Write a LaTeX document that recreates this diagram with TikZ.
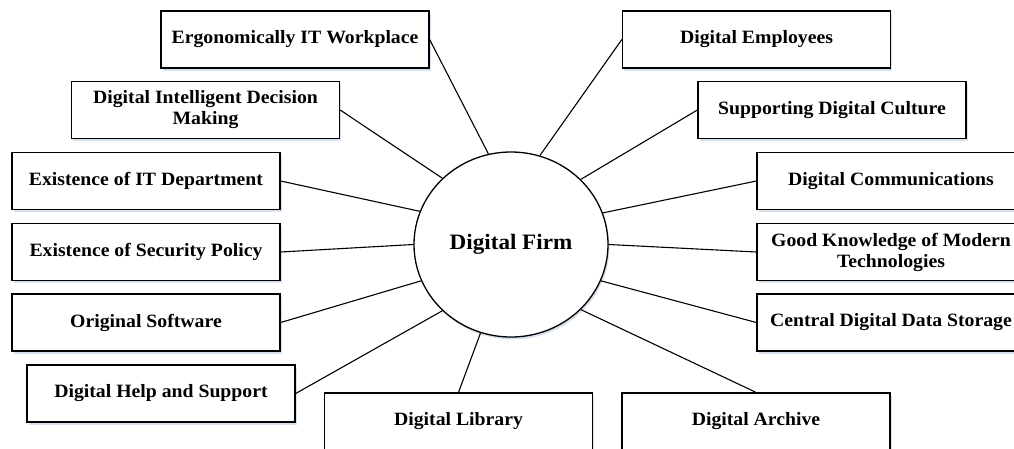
\documentclass[tikz,border=0pt]{standalone}
\usepackage{fontspec}
\setmainfont[FakeStretch=1.05]{Liberation Serif}
\usetikzlibrary{shapes.geometric,shadows}
\definecolor{shadowblue}{HTML}{D3DFEE}
\begin{document}
\begin{tikzpicture}[x=1pt,y=-1pt,
  box/.style={draw=black, line width=1.3pt, fill=white, minimum width=268pt,
    minimum height=57pt, inner sep=0pt, align=center,
    font=\fontsize{18.8}{21}\selectfont\bfseries,
    drop shadow={shadow xshift=1.5pt, shadow yshift=-2.5pt, fill=shadowblue, opacity=0.9}},
  hub/.style={draw=black, line width=1.3pt, fill=white, ellipse, minimum width=194pt,
    minimum height=185pt, inner sep=0pt,
    font=\fontsize{22}{24}\selectfont\bfseries,
    drop shadow={shadow xshift=1.5pt, shadow yshift=-2.5pt, fill=shadowblue, opacity=0.9}},
  link/.style={line width=1.1pt}]
\useasboundingbox (0,0) rectangle (1014,448);

\node[hub] (firm) at (511,244.5) {Digital Firm};

\node[box] (ergo) at (295,39.5) {Ergonomically IT Workplace};
\node[box] (dec) at (205.5,110) {Digital Intelligent Decision\\Making};
\node[box] (itd) at (146,181) {Existence of IT Department};
\node[box] (sec) at (146,252) {Existence of Security Policy};
\node[box] (orig) at (146,322.5) {Original Software};
\node[box] (help) at (161,393.5) {Digital Help and Support};
\node[box] (lib) at (458.5,421.5) {Digital Library};
\node[box] (arch) at (756,421.5) {Digital Archive};
\node[box] (emp) at (756.5,39.5) {Digital Employees};
\node[box] (cult) at (832,110) {Supporting Digital Culture};
\node[box] (comm) at (891,181) {Digital Communications};
\node[box] (know) at (891,252) {Good Knowledge of Modern\\Technologies};
\node[box] (stor) at (891,322.5) {Central Digital Data Storage};

\draw[link] (ergo.east) -- (firm.104);
\draw[link] (dec.east) -- (firm.136);
\draw[link] (itd.east) -- (firm.160.7);
\draw[link] (sec.east) -- (firm.180.3);
\draw[link] (orig.east) -- (firm.202.8);
\draw[link] (help.east) -- (firm.224);
\draw[link] (lib.north) -- (firm.251.5);
\draw[link] (arch.north) -- (firm.317);
\draw[link] (stor.west) -- (firm.338.7);
\draw[link] (know.west) -- (firm.0);
\draw[link] (comm.west) -- (firm.19.3);
\draw[link] (cult.west) -- (firm.43.5);
\draw[link] (emp.west) -- (firm.72.6);
\end{tikzpicture}
\end{document}
